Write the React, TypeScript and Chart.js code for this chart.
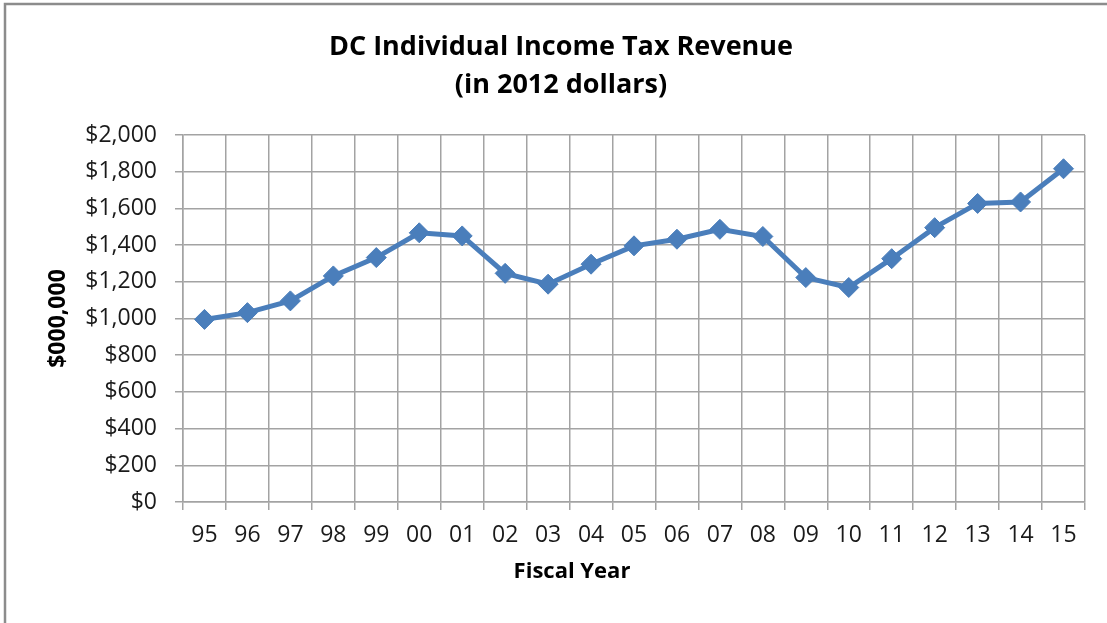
import React, { useEffect, useRef } from "react";
import { Chart, registerables } from "chart.js";

Chart.register(...registerables);

const years = ["95", "96", "97", "98", "99", "00", "01", "02", "03", "04", "05", "06", "07", "08", "09", "10", "11", "12", "13", "14", "15"];
const revenue = [995, 1032, 1096, 1232, 1332, 1467, 1450, 1246, 1187, 1296, 1396, 1432, 1486, 1447, 1223, 1169, 1326, 1495, 1627, 1635, 1816];
const yTicks = { min: 0, max: 2000, step: 200 };
const titleLines = ["DC Individual Income Tax Revenue", "(in 2012 dollars)"];
const yTitle = "$000,000";
const xTitle = "Fiscal Year";

const FONT = "'Open Sans', 'Noto Sans', sans-serif";

const decorPlugin = {
  id: "decor",
  beforeDraw(chart: any) {
    const ctx = chart.ctx;
    ctx.save();
    ctx.fillStyle = "#ffffff";
    ctx.fillRect(0, 0, chart.width, chart.height);
    ctx.strokeStyle = "#8c8c8c";
    ctx.lineWidth = 2.5;
    ctx.beginPath();
    ctx.moveTo(5, chart.height);
    ctx.lineTo(5, 4);
    ctx.lineTo(chart.width, 4);
    ctx.stroke();
    ctx.restore();
  },
  afterDraw(chart: any) {
    const ctx = chart.ctx;
    const area = chart.chartArea;
    ctx.save();
    ctx.fillStyle = "#000000";
    ctx.textAlign = "center";
    ctx.textBaseline = "middle";
    ctx.font = `bold 27px ${FONT}`;
    ctx.fillText(titleLines[0], 561, 47);
    ctx.fillText(titleLines[1], 561, 85);
    ctx.font = `bold 22px ${FONT}`;
    ctx.fillText(xTitle, 572, 572);
    ctx.font = `bold 23px ${FONT}`;
    ctx.translate(58, (area.top + area.bottom) / 2);
    ctx.rotate(-Math.PI / 2);
    ctx.fillText(yTitle, 0, 0);
    ctx.restore();
  },
};

export default function App() {
  const ref = useRef<HTMLCanvasElement | null>(null);
  useEffect(() => {
    if (!ref.current) return;
    const gridColor = "#a3a3a3";
    const chart = new Chart(ref.current, {
      type: "line",
      data: {
        labels: years,
        datasets: [
          {
            data: revenue,
            borderColor: "#4a7ebb",
            backgroundColor: "#4a7ebb",
            borderWidth: 5,
            pointStyle: "rectRot",
            pointRadius: 10,
            pointBorderWidth: 1,
            pointBorderColor: "#4a7ebb",
            pointBackgroundColor: "#4a7ebb",
            tension: 0,
          },
        ],
      },
      options: {
        responsive: false,
        animation: false,
        devicePixelRatio: 1,
        layout: { padding: { left: 0, top: 135, right: 22, bottom: 71 } },
        plugins: { legend: { display: false }, tooltip: { enabled: false }, title: { display: false } },
        scales: {
          x: {
            type: "category",
            offset: true,
            grid: { offset: true, color: gridColor, lineWidth: 1.5, tickLength: 8, tickColor: gridColor },
            border: { color: gridColor, width: 1.5 },
            ticks: { color: "#1a1a1a", font: { family: FONT, size: 23 }, padding: 12, maxRotation: 0, autoSkip: false },
            afterFit: (s: any) => { s.height = 50; },
          },
          y: {
            min: yTicks.min,
            max: yTicks.max,
            grid: { color: gridColor, lineWidth: 1.5, tickLength: 8, tickColor: gridColor },
            border: { color: gridColor, width: 1.5 },
            ticks: {
              stepSize: yTicks.step,
              color: "#1a1a1a",
              font: { family: FONT, size: 23 },
              padding: 18,
              callback: (v: any) => "$" + Number(v).toLocaleString("en-US"),
            },
            afterFit: (s: any) => { s.width = 183; },
          },
        },
      },
      plugins: [decorPlugin],
    });
    return () => chart.destroy();
  }, []);
  return (
    <div style={{ position: "fixed", left: 0, top: 0, width: 1107, height: 623, background: "#fff" }}>
      <canvas ref={ref} width={1107} height={623} style={{ display: "block", width: 1107, height: 623 }} />
    </div>
  );
}
